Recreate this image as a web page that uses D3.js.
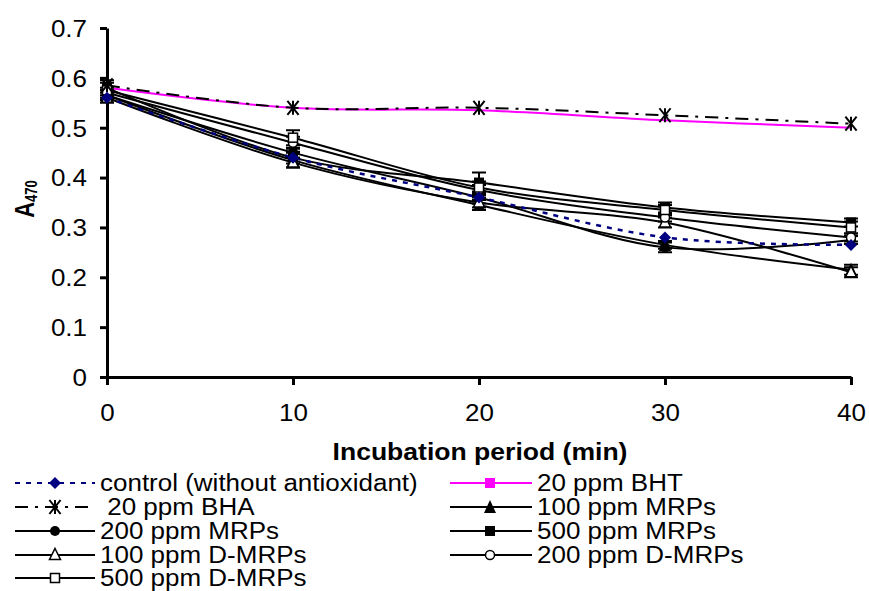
<!DOCTYPE html>
<html><head><meta charset="utf-8">
<script src="https://cdn.jsdelivr.net/npm/d3@7/dist/d3.min.js"></script>
<style>
body{margin:0;background:#fff;}
text{font-family:"Liberation Sans",Arial,sans-serif;fill:#000;}
</style></head>
<body><svg id="c" width="869" height="591"></svg>
<script>
// ---- data ----
const times = [0, 10, 20, 30, 40];
const xTicks = [0, 10, 20, 30, 40];
const yTicks = [0, 0.1, 0.2, 0.3, 0.4, 0.5, 0.6, 0.7];
const control  = [0.560, 0.440, 0.360, 0.280, 0.265];
const bha      = [0.585, 0.540, 0.540, 0.525, 0.508];
const bht      = [0.580, 0.540, 0.535, 0.515, 0.500];
const mrp100   = [0.565, 0.435, 0.345, 0.265, 0.215];
const mrp200   = [0.565, 0.450, 0.360, 0.260, 0.275];
const mrp500   = [0.580, 0.440, 0.390, 0.340, 0.310];
const dmrp100  = [0.560, 0.430, 0.350, 0.310, 0.210];
const dmrp200  = [0.570, 0.470, 0.375, 0.320, 0.280];
const dmrp500  = [0.575, 0.480, 0.380, 0.335, 0.300];
const err100   = [0.010, 0.015, 0.010, 0.008, 0.010];
const err200   = [0.010, 0.010, 0.012, 0.010, 0.008];
const err500   = [0.015, 0.012, 0.020, 0.010, 0.008];
const errD100  = [0.010, 0.010, 0.010, 0.010, 0.010];
const errD200  = [0.010, 0.012, 0.010, 0.008, 0.008];
const errD500  = [0.015, 0.015, 0.012, 0.010, 0.012];
const labels = ["control (without antioxidant)", " 20 ppm BHA", "20 ppm BHT", "100 ppm MRPs", "200 ppm MRPs",
                "500 ppm MRPs", "100 ppm D-MRPs", "200 ppm D-MRPs", "500 ppm D-MRPs"];

const series = [
  {name: labels[0], vals: control, color: "#000080", dash: "5,6", marker: "diamond", plotMarker: true},
  {name: labels[1], vals: bha, color: "#000", dash: "13,7,3,7", marker: "asterisk", plotMarker: true},
  {name: labels[2], vals: bht, color: "#ff00ff", dash: null, marker: "squareM", plotMarker: false},
  {name: labels[3], vals: mrp100, err: err100, color: "#000", dash: null, marker: "triF", plotMarker: true},
  {name: labels[4], vals: mrp200, err: err200, color: "#000", dash: null, marker: "circF", plotMarker: true},
  {name: labels[5], vals: mrp500, err: err500, color: "#000", dash: null, marker: "sqF", plotMarker: true},
  {name: labels[6], vals: dmrp100, err: errD100, color: "#000", dash: null, marker: "triO", plotMarker: true},
  {name: labels[7], vals: dmrp200, err: errD200, color: "#000", dash: null, marker: "circO", plotMarker: true},
  {name: labels[8], vals: dmrp500, err: errD500, color: "#000", dash: null, marker: "sqO", plotMarker: true}
];

const SX = 1.13; // horizontal text stretch of the original
const FS = 23;
const svg = d3.select("#c");
const x = d3.scaleLinear().domain([0, 40]).range([107, 851]);
const y = d3.scaleLinear().domain([0, 0.7]).range([377, 28]);

function drawMarker(g, type, cx, cy, color) {
  if (type === "diamond") {
    const s = 6;
    g.append("path").attr("d", `M${cx},${cy-s}L${cx+s},${cy}L${cx},${cy+s}L${cx-s},${cy}Z`).attr("fill", color);
  } else if (type === "asterisk") {
    const s = 7;
    const p = g.append("path").attr("stroke", "#000").attr("stroke-width", 2).attr("fill", "none");
    p.attr("d", `M${cx-s*0.8},${cy-s}L${cx+s*0.8},${cy+s}M${cx+s*0.8},${cy-s}L${cx-s*0.8},${cy+s}M${cx},${cy-s}L${cx},${cy+s}`);
  } else if (type === "squareM") {
    g.append("rect").attr("x", cx-5).attr("y", cy-5).attr("width", 10).attr("height", 10).attr("fill", color);
  } else if (type === "sqF") {
    g.append("rect").attr("x", cx-5).attr("y", cy-5).attr("width", 10).attr("height", 10).attr("fill", "#000");
  } else if (type === "sqO") {
    g.append("rect").attr("x", cx-4.5).attr("y", cy-4.5).attr("width", 9).attr("height", 9).attr("fill", "#fff").attr("stroke", "#000").attr("stroke-width", 1.5);
  } else if (type === "circF") {
    g.append("circle").attr("cx", cx).attr("cy", cy).attr("r", 5).attr("fill", "#000");
  } else if (type === "circO") {
    g.append("circle").attr("cx", cx).attr("cy", cy).attr("r", 4.5).attr("fill", "#fff").attr("stroke", "#000").attr("stroke-width", 1.5);
  } else if (type === "triF") {
    const s = 6;
    g.append("path").attr("d", `M${cx},${cy-s-1}L${cx+s},${cy+s}L${cx-s},${cy+s}Z`).attr("fill", "#000");
  } else if (type === "triO") {
    const s = 5.5;
    g.append("path").attr("d", `M${cx},${cy-s-1}L${cx+s},${cy+s-1}L${cx-s},${cy+s-1}Z`).attr("fill", "#fff").attr("stroke", "#000").attr("stroke-width", 1.5);
  }
}

// ---- axes ----
const xAxis = svg.append("g").attr("transform", `translate(0,${y(0)})`)
  .call(d3.axisBottom(x).tickValues(xTicks).tickSize(8).tickSizeOuter(0).tickFormat(d3.format("d")));
const yAxis = svg.append("g").attr("transform", `translate(${x(0)},0)`)
  .call(d3.axisLeft(y).tickValues(yTicks).tickSize(7).tickSizeOuter(0).tickFormat(d => d === 0 ? "0" : d3.format(".1f")(d)));
[xAxis, yAxis].forEach(a => {
  a.select(".domain").attr("stroke", "#000").attr("stroke-width", 3);
  a.selectAll(".tick line").attr("stroke", "#000").attr("stroke-width", 3);
  a.selectAll(".tick text").attr("font-size", FS).attr("font-family", "Liberation Sans, Arial, sans-serif").attr("fill", "#000");
});
xAxis.selectAll(".tick text").attr("y", 0).attr("dy", null).attr("transform", `translate(0,44) scale(${SX},1)`);
yAxis.selectAll(".tick text").attr("x", 0).attr("dy", "0.36em").attr("transform", `translate(-20,0) scale(${SX},1)`);

// ---- titles ----
svg.append("g").attr("transform", `translate(480,460) scale(${SX},1)`)
  .append("text").attr("text-anchor", "middle").attr("font-size", FS + 0.5).attr("font-weight", "bold").text("Incubation period (min)");
const yt = svg.append("g").attr("transform", `translate(34,199) scale(1.25,1) rotate(-90)`)
  .append("text").attr("text-anchor", "middle").attr("font-weight", "bold");
yt.append("tspan").attr("font-size", 22).text("A");
yt.append("tspan").attr("font-size", 13).attr("dy", 2).text("470");

// ---- lines ----
const line = d3.line().x((d, i) => x(times[i])).y(d => y(d)).curve(d3.curveCardinal.tension(0));
const plot = svg.append("g");
const order = [3, 4, 5, 6, 7, 8, 2, 1, 0];
order.forEach(k => {
  const s = series[k];
  plot.append("path").attr("d", line(s.vals)).attr("fill", "none").attr("stroke", s.color)
    .attr("stroke-width", k === 0 ? 2.5 : 2).attr("stroke-dasharray", s.dash);
});
// error bars
order.forEach(k => {
  const s = series[k];
  if (!s.err) return;
  s.vals.forEach((v, i) => {
    const cx = x(times[i]), e = s.err[i];
    plot.append("path").attr("d", `M${cx},${y(v+e)}L${cx},${y(v-e)}M${cx-7},${y(v+e)}L${cx+7},${y(v+e)}M${cx-7},${y(v-e)}L${cx+7},${y(v-e)}`)
      .attr("stroke", "#000").attr("stroke-width", 2).attr("fill", "none");
  });
});
// markers
order.forEach(k => {
  const s = series[k];
  if (!s.plotMarker) return;
  s.vals.forEach((v, i) => drawMarker(plot, s.marker, x(times[i]), y(v), s.color));
});

// ---- legend ----
const leg = svg.append("g");
const rowY = [483, 507, 531, 555, 578];
const leftIdx = [0, 1, 4, 6, 8];
const rightIdx = [2, 3, 5, 7];
function legendItem(k, x0, x1, xm, tx, yy) {
  const s = series[k];
  leg.append("line").attr("x1", x0).attr("x2", x1).attr("y1", yy).attr("y2", yy)
    .attr("stroke", s.color).attr("stroke-width", 2).attr("stroke-dasharray", s.dash);
  drawMarker(leg, s.marker, xm, yy, s.color);
  leg.append("g").attr("transform", `translate(${tx},${yy + 8}) scale(${SX},1)`)
    .append("text").attr("font-size", FS).attr("xml:space", "preserve").style("white-space", "pre").text(s.name);
}
leftIdx.forEach((k, i) => legendItem(k, 15, 95, 55, 100, rowY[i]));
rightIdx.forEach((k, i) => legendItem(k, 450, 532, 490, 537, rowY[i]));
</script></body></html>
